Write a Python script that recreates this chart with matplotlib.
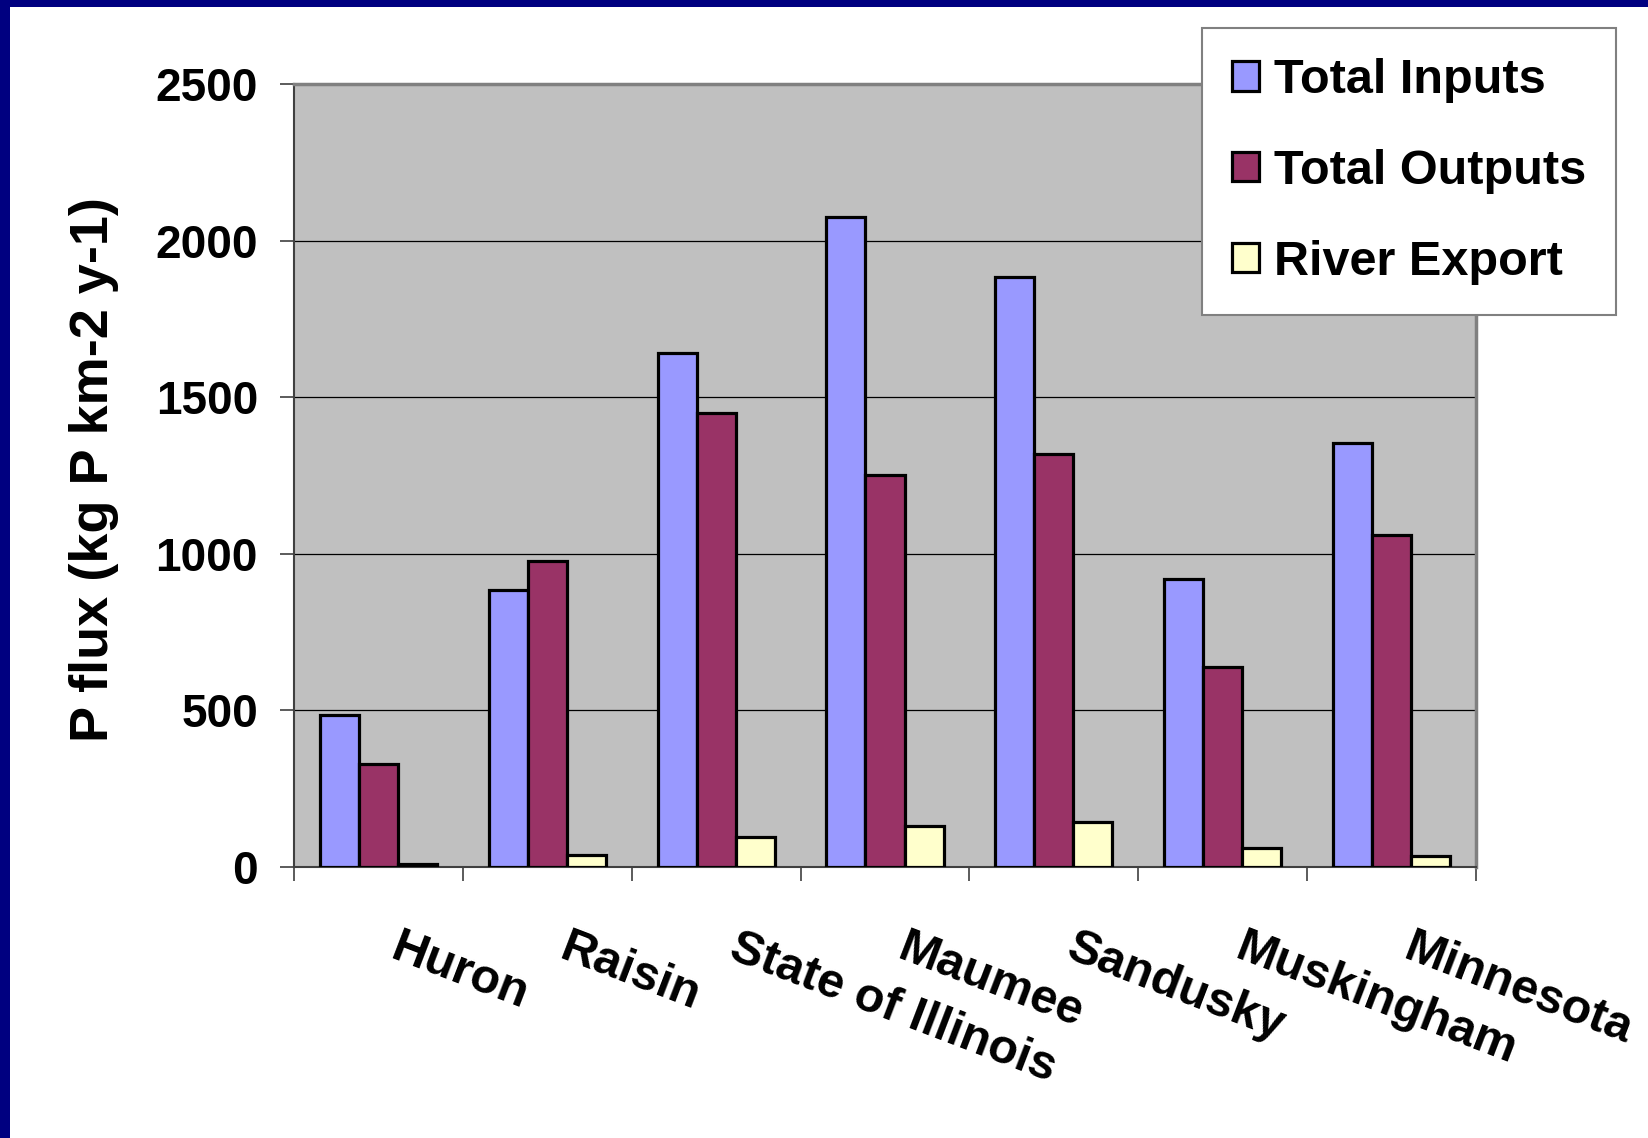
import matplotlib
matplotlib.use("Agg")
import matplotlib.pyplot as plt
import matplotlib.transforms as mtransforms
from matplotlib.patches import Rectangle
import numpy as np

categories = ["Huron", "Raisin", "State of Illinois", "Maumee", "Sandusky", "Muskingham", "Minnesota"]
total_inputs = [485, 884, 1640, 2075, 1885, 920, 1355]
total_outputs = [330, 978, 1450, 1250, 1320, 638, 1060]
river_export = [10, 37, 95, 131, 144, 61, 36]
series_names = ["Total Inputs", "Total Outputs", "River Export"]
series_colors = ["#9999FF", "#993366", "#FFFFCC"]
yticks = [0, 500, 1000, 1500, 2000, 2500]

plt.rcParams['font.family'] = ['Liberation Sans', 'DejaVu Sans']
plt.rcParams['font.weight'] = 'bold'

W, H = 1649, 1138
fig = plt.figure(figsize=(W / 100, H / 100), dpi=100)
fig.patch.set_facecolor("white")

# navy frame (left and top)
fig.patches.append(Rectangle((0, 0), 10 / W, 1, transform=fig.transFigure, facecolor="#000080", edgecolor="none", zorder=0))
fig.patches.append(Rectangle((0, 1 - 7 / H), 1, 7 / H, transform=fig.transFigure, facecolor="#000080", edgecolor="none", zorder=0))

ax_l, ax_r, ax_t, ax_b = 294, 1476, 84, 867
ax = fig.add_axes([ax_l / W, (H - ax_b) / H, (ax_r - ax_l) / W, (ax_b - ax_t) / H])
ax.set_facecolor("#C0C0C0")

n = len(categories)
x = np.arange(n) + 0.5
bw = 0.231
for k, (vals, name, col) in enumerate(zip([total_inputs, total_outputs, river_export], series_names, series_colors)):
    ax.bar(x + (k - 1) * bw, vals, width=bw, color=col, edgecolor="black", linewidth=2.3, label=name, zorder=3)

ax.set_xlim(0, n)
ax.set_ylim(0, 2500)
ax.set_yticks(yticks)
ax.set_yticklabels([str(v) for v in yticks], fontsize=33, fontweight="bold")
ax.yaxis.grid(True, color="black", linewidth=0.9, zorder=1)
ax.set_axisbelow(True)

ax.set_xticks(np.arange(n + 1))
ax.set_xticklabels([])
ax.set_xticks(x, minor=True)
ax.set_xticklabels(categories, minor=True, fontsize=35, fontweight="bold",
                   rotation=-21, ha="left", va="top", rotation_mode="anchor")
ax.tick_params(axis="x", which="major", length=10, width=1.2, color="#404040", direction="out")
ax.tick_params(axis="x", which="minor", length=0, pad=42)
ax.tick_params(axis="y", length=10, width=1.2, color="#404040", pad=16)
offset = mtransforms.ScaledTranslation(23 / 100, 0, fig.dpi_scale_trans)
for lab in ax.get_xticklabels(minor=True):
    lab.set_transform(lab.get_transform() + offset)

for s in ["left", "bottom"]:
    ax.spines[s].set_color("#404040")
    ax.spines[s].set_linewidth(1.5)
for s in ["top", "right"]:
    ax.spines[s].set_color("#808080")
    ax.spines[s].set_linewidth(2.5)

fig.text(94 / W, 1 - 470 / H, "P flux (kg P km-2 y-1)", rotation=90, fontsize=39,
         fontweight="bold", ha="center", va="center")

leg = fig.legend(loc="upper left", bbox_to_anchor=(1202 / W, 1 - 28 / H), bbox_transform=fig.transFigure,
                 borderaxespad=0, prop={"weight": "bold", "size": 35},
                 handlelength=0.56, handleheight=0.56, handletextpad=0.3, labelspacing=0.94,
                 borderpad=0.62, fancybox=False, framealpha=1, edgecolor="#808080")
leg.get_frame().set_linewidth(1.5)
for h in leg.legend_handles:
    h.set_linewidth(2.3)

fig.savefig("out.png", dpi=100)
